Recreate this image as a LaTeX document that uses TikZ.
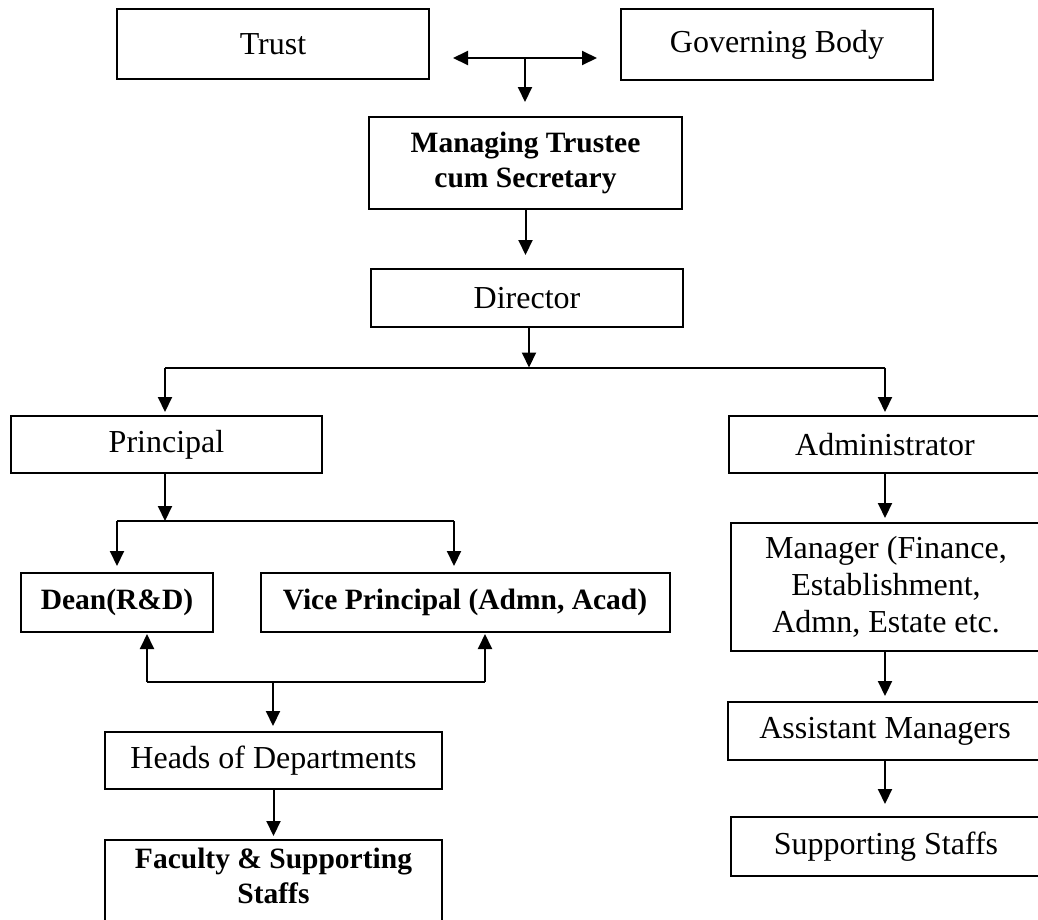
\documentclass[tikz,border=0pt]{standalone}
\usepackage{fontspec}
\setmainfont{Liberation Serif}
\usetikzlibrary{arrows.meta}
\begin{document}
\begin{tikzpicture}[x=1pt,y=-1pt,
  >={Triangle[length=15pt,width=14pt]},
  box/.style={draw, line width=2pt, inner sep=0pt, align=center, font=\fontsize{32}{37}\selectfont},
  bbox/.style={box, font=\fontsize{29.5}{35}\selectfont\bfseries},
  btext/.style={inner sep=0pt, align=center, font=\fontsize{29.5}{35}\selectfont\bfseries},
  conn/.style={line width=2pt, ->},
  ln/.style={line width=2pt}]
\useasboundingbox (0,0) rectangle (1038,919);

% boxes
\node[box, minimum width=312pt, minimum height=70pt] (trust) at (273,44) {Trust};
\node[box, minimum width=312pt, minimum height=71pt] (gov) at (777,44.5) {Governing Body};
\node[bbox, minimum width=313pt, minimum height=92pt] (mt) at (525.5,163) {Managing Trustee\\cum Secretary};
\node[box, minimum width=312pt, minimum height=58pt] (dir) at (527,298) {Director};
\node[box, minimum width=311pt, minimum height=57pt] (prin) at (166.5,444.5) {Principal};
\node[box, minimum width=312pt, minimum height=57pt] (adm) at (885,444.5) {Administrator};
\node[bbox, minimum width=192pt, minimum height=59pt] (dean) at (117,602.5) {Dean(R\&D)};
\node[bbox, minimum width=409pt, minimum height=59pt] (vp) at (465,602.5) {Vice Principal (Admn, Acad)};
\node[box, minimum width=337pt, minimum height=57pt] (hod) at (273.5,760.5) {Heads of Departments};
\node[box, minimum width=337pt, minimum height=90pt, anchor=north] (fac) at (273.5,839) {};
\node[btext] (factxt) at (273.5,876) {Faculty \& Supporting\\Staffs};
\node[box, minimum width=310pt, minimum height=128pt] (mgr) at (886,587) {Manager (Finance,\\Establishment,\\Admn, Estate etc.};
\node[box, minimum width=314pt, minimum height=58pt] (asst) at (885,731) {Assistant Managers};
\node[box, minimum width=310pt, minimum height=59pt] (sup) at (886,846.5) {Supporting Staffs};

% top junction
\coordinate (jl) at (453,58);
\coordinate (jr) at (597,58);
\coordinate (j0) at (525,58);
\draw[ln, <->] (jl) -- (jr);
\draw[conn, shorten >=14pt] (j0) -- (j0 |- mt.north);
\draw[conn, shorten >=13pt] (mt.south) -- (mt.south |- dir.north);

% director split
\coordinate (d1) at (529,367.5);
\coordinate (dl) at (165,367.5);
\coordinate (dr) at (885,367.5);
\draw[conn] (dir.south -| d1) -- (d1);
\draw[ln] (dl) -- (dr);
\draw[conn, shorten >=3pt] (dl) -- (dl |- prin.north);
\draw[conn, shorten >=3pt] (dr) -- (dr |- adm.north);

% principal split
\coordinate (p1) at (165,521);
\coordinate (pl) at (117,521);
\coordinate (pr) at (454,521);
\draw[conn] (prin.south -| p1) -- (p1);
\draw[ln] (pl) -- (pr);
\draw[conn, shorten >=6pt] (pl) -- (pl |- dean.north);
\draw[conn, shorten >=6pt] (pr) -- (pr |- vp.north);

% lower junction
\coordinate (ql) at (147,682);
\coordinate (qr) at (485,682);
\coordinate (qm) at (273,682);
\draw[ln] (ql) -- (qr);
\draw[conn, shorten >=1pt] (ql) -- (ql |- dean.south);
\draw[conn, shorten >=1pt] (qr) -- (qr |- vp.south);
\draw[conn, shorten >=5pt] (qm) -- (qm |- hod.north);
\draw[conn, shorten >=3pt] (hod.south) -- (hod.south |- fac.north);

% right column
\draw[conn, shorten >=4pt] (adm.south) -- (adm.south |- mgr.north);
\draw[conn, shorten >=5pt] (mgr.south -| adm.south) -- (adm.south |- asst.north);
\draw[conn, shorten >=12pt] (asst.south) -- (asst.south |- sup.north);
\end{tikzpicture}
\end{document}
